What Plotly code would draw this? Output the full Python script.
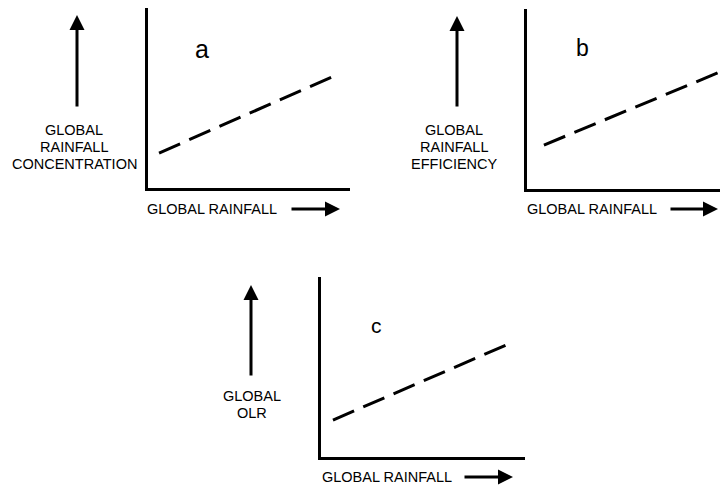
import plotly.graph_objects as go

W, H = 720, 485

# ---- data (schematic values, in each panel's normalised axis units) ----
panel_letters = ["a", "b", "c"]
y_labels = [["GLOBAL", "RAINFALL", "CONCENTRATION"],
            ["GLOBAL", "RAINFALL", "EFFICIENCY"],
            ["GLOBAL", "OLR"]]
x_label = "GLOBAL RAINFALL"
line_x = [[0.057, 0.911], [0.086, 1.0], [0.061, 0.907]]
line_y = [[0.192, 0.616], [0.242, 0.670], [0.203, 0.621]]

# ---- layout helpers (pixel -> paper) ----
def px(x):
    return x / W

def py(y):
    return 1 - y / H

# plot areas in pixels: left, right, top, bottom
areas = [(147.5, 350, 8, 187.5), (526.5, 729, 9, 188.5), (320.5, 525, 277, 456.5)]

fig = go.Figure()
FONT = "Liberation Sans, Arial, sans-serif"
annotations = []

for i in range(3):
    l, r, t, b = areas[i]
    sfx = "" if i == 0 else str(i + 1)
    xr_max = (min(r, W) - l) / (r - l)
    dom_x = [px(l), px(min(r, W))]
    dom_y = [py(b), py(t)]
    fig.add_trace(go.Scatter(
        x=line_x[i], y=line_y[i], mode="lines",
        line=dict(color="black", width=3, dash="23px,10px"),
        xaxis="x" + sfx, yaxis="y" + sfx, showlegend=False, hoverinfo="skip"))
    ax_common = dict(showgrid=False, zeroline=False, showticklabels=False,
                     ticks="", showline=True, linecolor="black", linewidth=3,
                     fixedrange=True)
    fig.layout["xaxis" + sfx] = dict(domain=dom_x, range=[0, xr_max],
                                     anchor="y" + sfx, **ax_common)
    fig.layout["yaxis" + sfx] = dict(domain=dom_y, range=[0, 1],
                                     anchor="x" + sfx, **ax_common)

# panel letters
letter_pos = [(201.5, 49, 25), (582, 48, 23), (376, 325, 21)]
for letter, (x, y, s) in zip(panel_letters, letter_pos):
    annotations.append(dict(text=letter, x=px(x), y=py(y), xref="paper", yref="paper",
                            showarrow=False, xanchor="center", yanchor="middle",
                            font=dict(family=FONT, size=s, color="black")))

# y-axis labels (stacked lines)
ylab_pos = [(74, 130), (454, 130), (252, 396)]
for lines, (x, y0) in zip(y_labels, ylab_pos):
    for k, txt in enumerate(lines):
        annotations.append(dict(text=txt, x=px(x), y=py(y0 + 17 * k),
                                xref="paper", yref="paper", showarrow=False,
                                xanchor="center", yanchor="middle",
                                font=dict(family=FONT, size=14.5, color="black")))

# x-axis labels
xlab_pos = [(212, 209), (592, 209), (387, 477)]
for (x, y) in xlab_pos:
    annotations.append(dict(text=x_label, x=px(x), y=py(y), xref="paper", yref="paper",
                            showarrow=False, xanchor="center", yanchor="middle",
                            font=dict(family=FONT, size=14.5, color="black")))

# direction arrows: (tip_x, tip_y, tail_x, tail_y)
arrows = [(77, 15, 77, 108), (457, 16, 457, 108), (251, 285, 251, 377),
          (340, 209, 290, 209), (718, 209, 669, 209), (513, 477, 463, 477)]
for (tx, ty, sx, sy) in arrows:
    annotations.append(dict(text="", x=px(tx), y=py(ty), xref="paper", yref="paper",
                            ax=sx - tx, ay=sy - ty, showarrow=True,
                            arrowhead=2, arrowsize=1, arrowwidth=3,
                            arrowcolor="black", standoff=0))

fig.update_layout(width=W, height=H, margin=dict(l=0, r=0, t=0, b=0),
                  paper_bgcolor="white", plot_bgcolor="white",
                  annotations=annotations, showlegend=False)

fig.write_html("out.html",
               config={"displayModeBar": False, "staticPlot": True},
               post_script="document.body.style.margin='0';document.body.style.padding='0';")
